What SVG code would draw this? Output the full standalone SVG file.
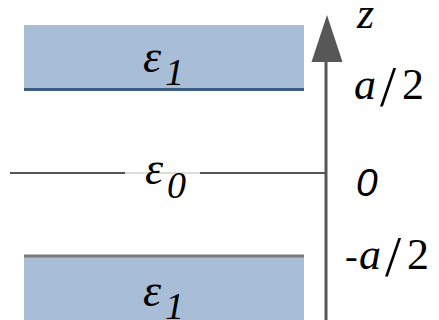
<svg xmlns="http://www.w3.org/2000/svg" width="439" height="320" viewBox="0 0 439 320">
<style>
.slab{fill:#a8bed7}
text{fill:#000;font-family:"Liberation Serif",serif}
.eps{font-style:italic;font-size:46px}
.sub{font-style:italic;font-size:38px}
.it{font-style:italic}
.lbl{font-size:44px}
.sl{font-size:58px}
.sans{font-family:"Liberation Sans",sans-serif;font-style:italic;font-size:39px}
</style>
<rect width="439" height="320" fill="#fff"/>
<g id="slab-top">
<rect class="slab" x="24" y="25" width="280" height="65"/>
<line x1="24" y1="89.5" x2="304" y2="89.5" stroke="#3e5d83" stroke-width="3"/>
<text class="eps" x="143" y="72">ε<tspan class="sub" x="165" y="85">1</tspan></text>
</g>
<g id="slab-bottom">
<rect class="slab" x="24" y="256" width="280" height="70"/>
<line x1="24" y1="256" x2="304" y2="256" stroke="#7a7a7a" stroke-width="3"/>
<text class="eps" x="143" y="306">ε<tspan class="sub" x="165" y="319">1</tspan></text>
</g>
<g id="connectors">
<line x1="10" y1="173" x2="325" y2="173" stroke="#555" stroke-width="2"/>
<line x1="125" y1="173" x2="200" y2="173" stroke="#ddd" stroke-width="2"/>
<line x1="326" y1="320" x2="326" y2="58" stroke="#575757" stroke-width="3"/>
<polygon points="327,15 311.5,62 342.5,62" fill="#575757"/>
</g>
<g id="middle">
<text class="eps" x="145" y="184">ε<tspan class="sub" x="167" y="198">0</tspan></text>
</g>
<g id="labels">
<text class="lbl it" x="357" y="28">z</text>
<text class="lbl" y="99"><tspan class="it" x="354">a</tspan><tspan class="sl" x="380" y="106">/</tspan><tspan x="402" y="99">2</tspan></text>
<text class="sans" x="356" y="196">0</text>
<text class="lbl" y="269"><tspan x="345" font-size="38">-</tspan><tspan class="it" x="359">a</tspan><tspan class="sl" x="385" y="276">/</tspan><tspan x="407" y="269">2</tspan></text>
</g>
</svg>
